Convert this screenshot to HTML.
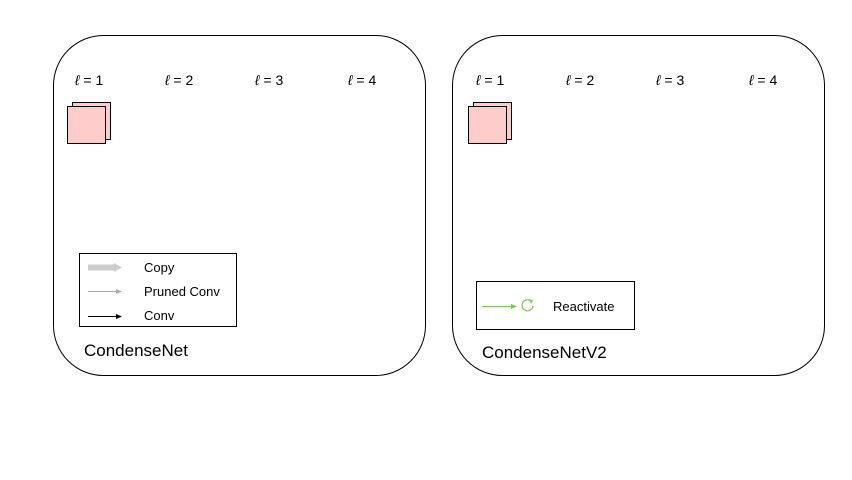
<!DOCTYPE html>
<html><head><meta charset="utf-8"><style>
html,body{margin:0;padding:0;background:#fff;}
svg{display:block;font-family:"Liberation Sans",Arial,sans-serif;}
</style></head><body>
<svg width="852" height="480" viewBox="0 0 852 480">
<defs>
<marker id="ag" markerWidth="6" markerHeight="6" refX="5" refY="3" orient="auto"><path d="M0,0.5 L6,3 L0,5.5z" fill="#aaa"/></marker>
<marker id="ak" markerWidth="6" markerHeight="6" refX="5" refY="3" orient="auto"><path d="M0,0.5 L6,3 L0,5.5z" fill="#000"/></marker>
<marker id="agr" markerWidth="6" markerHeight="6" refX="5" refY="3" orient="auto"><path d="M0,0.5 L6,3 L0,5.5z" fill="#82c35a"/></marker>
</defs>
<g>
<rect x="53.5" y="35.5" width="372" height="340" rx="50" ry="50" fill="#fff" stroke="#000" stroke-width="1"/>
<g font-size="14" fill="#000">
<text x="75" y="85"><tspan font-style="italic">ℓ</tspan> = 1</text>
<text x="165" y="85"><tspan font-style="italic">ℓ</tspan> = 2</text>
<text x="255" y="85"><tspan font-style="italic">ℓ</tspan> = 3</text>
<text x="348" y="85"><tspan font-style="italic">ℓ</tspan> = 4</text>
</g>
<rect x="72.5" y="102.5" width="38" height="37" fill="#ffcccc" stroke="#000"/>
<rect x="67.5" y="106.5" width="38" height="37" fill="#ffcccc" stroke="#000"/>
<g>
<rect x="79.5" y="253.5" width="157" height="73" fill="#fff" stroke="#000"/>
<path d="M88,267.5 H114 L114,263 L122,267.5 L114,272 L114,267.5" fill="#ccc" stroke="none"/>
<rect x="88" y="264.5" width="27" height="6" fill="#ccc"/>
<text x="144" y="272" font-size="13">Copy</text>
<line x1="88" y1="291.5" x2="121" y2="291.5" stroke="#aaa" marker-end="url(#ag)"/>
<text x="144" y="296" font-size="13">Pruned Conv</text>
<line x1="88" y1="316.5" x2="121" y2="316.5" stroke="#000" marker-end="url(#ak)"/>
<text x="144" y="320" font-size="13">Conv</text>
</g>
<text x="84" y="356" font-size="17">CondenseNet</text>
</g>
<g>
<rect x="452.5" y="35.5" width="372" height="340" rx="50" ry="50" fill="#fff" stroke="#000" stroke-width="1"/>
<g font-size="14" fill="#000">
<text x="476" y="85"><tspan font-style="italic">ℓ</tspan> = 1</text>
<text x="566" y="85"><tspan font-style="italic">ℓ</tspan> = 2</text>
<text x="656" y="85"><tspan font-style="italic">ℓ</tspan> = 3</text>
<text x="749" y="85"><tspan font-style="italic">ℓ</tspan> = 4</text>
</g>
<rect x="473.5" y="102.5" width="38" height="37" fill="#ffcccc" stroke="#000"/>
<rect x="468.5" y="106.5" width="38" height="37" fill="#ffcccc" stroke="#000"/>
<g>
<rect x="476.5" y="281.5" width="158" height="48" fill="#fff" stroke="#000"/>
<line x1="482" y1="306.5" x2="516" y2="306.5" stroke="#82c35a" marker-end="url(#agr)"/>
<path d="M531.5,301.5 A5.5,5.5 0 1 0 533,306" fill="none" stroke="#82c35a" stroke-width="1.2"/>
<path d="M529,299 L533,300.5 L531,304z" fill="#82c35a"/>
<text x="553" y="311" font-size="13">Reactivate</text>
</g>
<text x="482" y="358" font-size="17">CondenseNetV2</text>
</g>
</svg>
</body></html>
